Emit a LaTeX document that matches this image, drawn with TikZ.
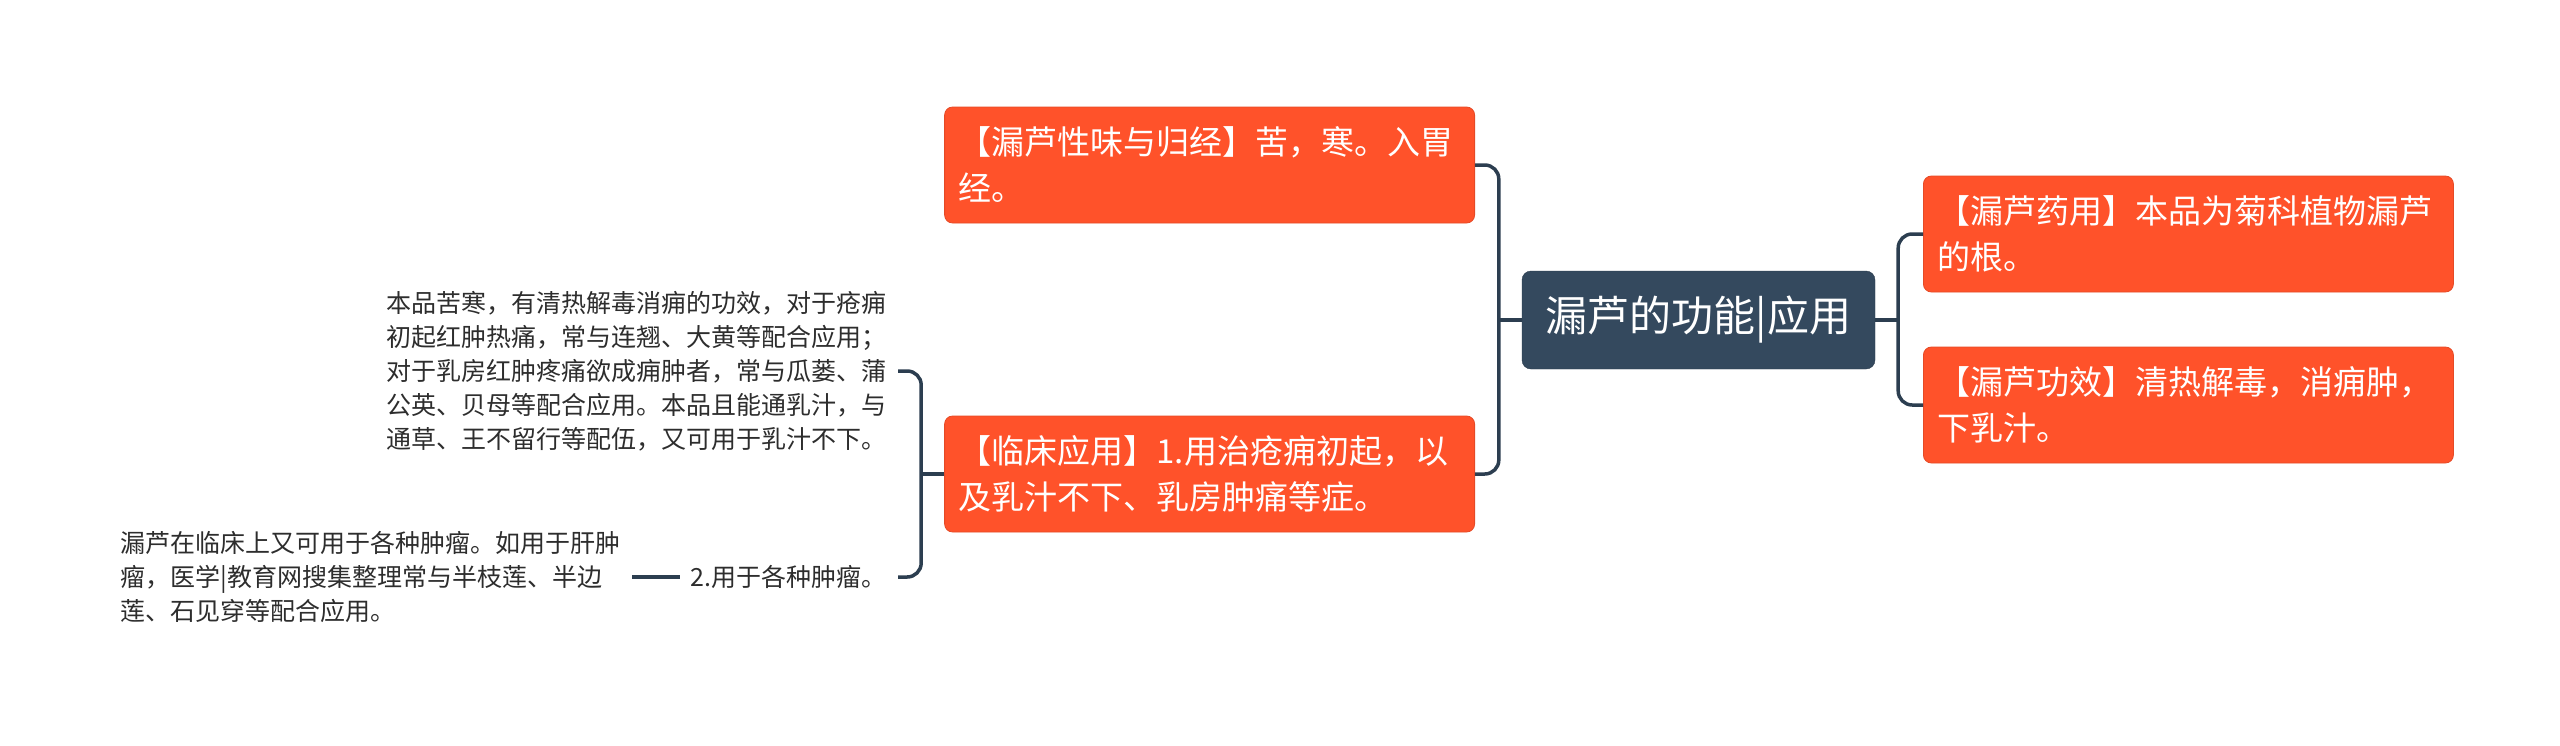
\documentclass[tikz,border=0pt]{standalone}
\usepackage{fontspec}
\setmainfont{Noto Sans CJK SC}
\usetikzlibrary{positioning,calc}
\definecolor{slate}{RGB}{52,73,94}
\definecolor{linkc}{RGB}{44,62,80}
\definecolor{flame}{RGB}{255,82,42}
\definecolor{ink}{RGB}{45,45,45}

\begin{document}
\begin{tikzpicture}[x=1pt, y=-1pt,
  root/.style={fill=slate, draw=slate!80!black, rounded corners=9pt, text=white, font=\fontsize{42}{50}\selectfont, minimum width=353pt, minimum height=98pt, inner sep=0pt},
  topic/.style={fill=flame, draw=flame!90!black, line width=0.8pt, rounded corners=8pt, text=white, font=\fontsize{33}{46}\selectfont, text width=502pt, inner xsep=14pt, minimum height=116pt, align=left},
  note/.style={text=ink, font=\fontsize{25}{34}\selectfont, align=left, inner xsep=11pt, inner ysep=0pt},
  branch/.style={draw=linkc, line width=3.5pt, rounded corners=14pt}
]
\useasboundingbox (0,0) rectangle (2560,745);

% centre and main topics
\node[root] (root) at (1698.5,320) {漏芦的功能|应用};
\node[topic, anchor=east] (taste) at (1475,165) {【漏芦性味与归经】苦，寒。入胃\\经。};
\node[topic, anchor=east] (clinic) at (1475,474) {【临床应用】1.用治疮痈初起，以\\及乳汁不下、乳房肿痛等症。};
\node[topic, anchor=west] (herb) at (1923,234) {【漏芦药用】本品为菊科植物漏芦\\的根。};
\node[topic, anchor=west] (effect) at (1923,405) {【漏芦功效】清热解毒，消痈肿，\\下乳汁。};

% notes under clinical use
\node[note, anchor=east] (usage) at (898,371) {本品苦寒，有清热解毒消痈的功效，对于疮痈\\初起红肿热痛，常与连翘、大黄等配合应用；\\对于乳房红肿疼痛欲成痈肿者，常与瓜蒌、蒲\\公英、贝母等配合应用。本品且能通乳汁，与\\通草、王不留行等配伍，又可用于乳汁不下。};
\node[note, anchor=east] (tumor) at (898,577) {2.用于各种肿瘤。};
\node[note, anchor=east] (detail) at (632,577) {漏芦在临床上又可用于各种肿瘤。如用于肝肿\\瘤，医学|教育网搜集整理常与半枝莲、半边\\莲、石见穿等配合应用。};

% connectors
\coordinate (lj) at ($(root.west)+(-23,0)$);
\coordinate (rj) at ($(root.east)+(23,0)$);
\coordinate (cj) at ($(clinic.west)+(-23,0)$);
\draw[branch] (root.west) -- (lj);
\draw[branch] (taste.east) -| (lj) |- (clinic.east);
\draw[branch] (root.east) -- (rj);
\draw[branch] (herb.west) -| (rj) |- (effect.west);
\draw[branch] (clinic.west) -- (cj);
\draw[branch] (usage.east) -| (cj) |- (tumor.east);
\draw[branch] (tumor.west) -- (detail.east);
\end{tikzpicture}
\end{document}
